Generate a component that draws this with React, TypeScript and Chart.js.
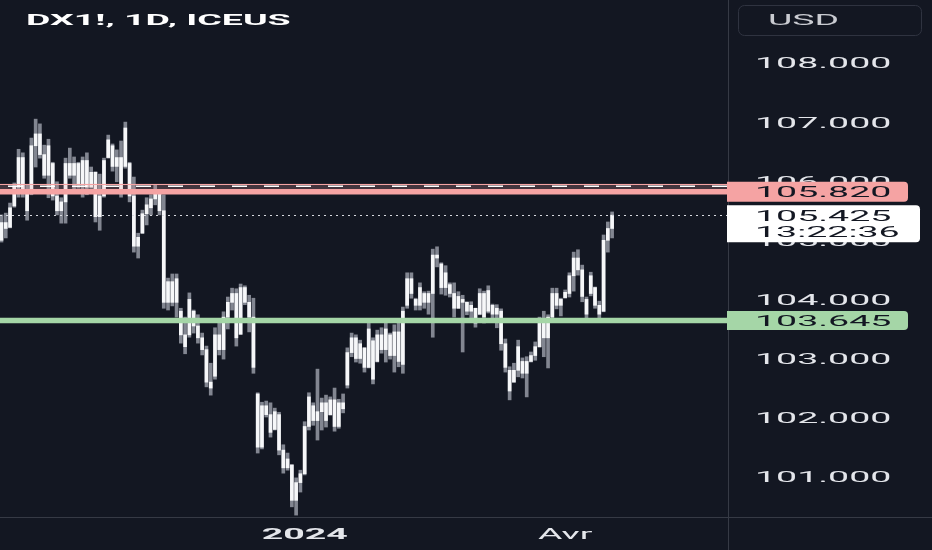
import { useEffect, useRef } from 'react';
import { Chart, registerables } from 'chart.js';

Chart.register(...registerables);

// ---- data (daily OHLC, DX1! ICEUS) ----
const opens = [
  105.0, 105.3, 105.22, 105.58, 105.9, 106.4, 105.8, 105.8, 106.6, 106.8,
  106.45, 106.1, 106.3, 105.75, 105.5, 105.65, 106.3, 106.1, 106.3, 105.95,
  106.35, 105.9, 106.15, 105.4, 105.75, 106.4, 106.6, 106.25, 106.4, 106.25,
  106.3, 105.75, 104.9, 105.12, 105.45, 105.55, 105.7, 105.78, 105.5, 103.95,
  104.3, 103.95, 103.8, 103.4, 103.4, 103.8, 103.55, 103.35, 103.15, 102.6,
  102.7, 103.4, 103.15, 103.7, 103.95, 104.1, 103.41, 104.2, 103.95, 103.7,
  102.4, 101.5, 102.2, 102.05, 101.8, 102.05, 101.45, 101.15, 101.2, 100.6,
  100.9, 101.05, 101.85, 102.2, 101.95, 102.1, 102.25, 102.05, 102.3, 101.85,
  102.25, 102.55, 103.1, 103.35, 103.0, 103.18, 102.85, 103.3, 102.95, 103.4,
  103.15, 103.4, 103.05, 103.45, 102.9, 103.9, 104.35, 104.0, 103.9, 104.1,
  103.95, 104.1, 104.75, 104.6, 104.2, 104.25, 104.1, 103.85, 104.0, 103.95,
  103.8, 103.85, 103.75, 104.1, 103.8, 103.9, 103.75, 103.8, 103.25, 102.8,
  102.6, 102.8, 102.95, 102.75, 102.95, 103.05, 103.2, 103.6, 103.35, 103.7,
  104.1, 103.9, 104.03, 104.1, 104.4, 104.7, 104.5, 104.0, 104.1, 104.2,
  103.9, 103.8, 105.0, 105.2,
];
const highs = [
  105.43, 105.46, 105.63, 105.97, 106.54, 106.48, 105.94, 106.73, 107.05, 106.97,
  106.61, 106.71, 106.32, 105.99, 105.72, 106.39, 106.56, 106.41, 106.32, 106.41,
  106.48, 106.24, 106.16, 106.12, 106.39, 106.78, 106.63, 106.53, 106.68, 107.0,
  106.32, 106.07, 105.12, 105.51, 105.72, 105.77, 105.94, 105.8, 105.77, 104.36,
  104.43, 104.43, 103.85, 103.7, 104.11, 103.82, 103.74, 103.43, 103.21, 102.92,
  103.52, 103.6, 103.79, 104.04, 104.19, 104.18, 104.26, 104.23, 104.07, 104.02,
  102.42, 102.26, 102.28, 102.25, 102.16, 102.09, 101.54, 101.4, 101.2, 100.98,
  101.11, 101.93, 102.42, 102.25, 102.82, 102.33, 102.38, 102.35, 102.5, 102.31,
  102.4, 103.18, 103.43, 103.4, 103.31, 103.18, 103.6, 103.35, 103.48, 103.52,
  103.6, 103.43, 103.57, 103.62, 103.87, 104.45, 104.45, 104.02, 104.28, 104.13,
  104.14, 104.85, 104.89, 104.62, 104.57, 104.28, 104.28, 104.13, 104.07, 103.96,
  103.96, 103.85, 104.18, 104.14, 104.23, 103.92, 103.91, 103.84, 103.33, 102.86,
  102.92, 103.31, 103.01, 103.03, 103.11, 103.28, 103.7, 103.8, 103.74, 104.19,
  104.19, 104.02, 104.16, 104.45, 104.8, 104.84, 104.58, 104.04, 104.46, 104.21,
  103.97, 105.09, 105.31, 105.48,
];
const lows = [
  104.97, 105.04, 105.21, 105.56, 105.73, 105.73, 105.34, 105.77, 106.24, 106.39,
  106.05, 105.72, 105.68, 105.43, 105.29, 105.29, 106.05, 105.85, 105.88, 105.73,
  105.77, 105.88, 105.31, 105.17, 105.73, 106.39, 106.17, 105.99, 105.73, 106.22,
  105.65, 104.8, 104.7, 105.12, 105.26, 105.43, 105.6, 105.43, 103.85, 103.82,
  103.89, 103.7, 103.26, 103.08, 103.36, 103.43, 103.26, 103.06, 102.52, 102.38,
  102.65, 103.06, 102.99, 103.5, 103.82, 103.21, 103.41, 103.91, 103.45, 102.75,
  101.4, 101.47, 102.01, 101.67, 101.79, 101.37, 101.06, 101.11, 100.49, 100.35,
  100.74, 101.03, 101.79, 101.87, 101.62, 101.79, 101.84, 102.04, 101.77, 101.82,
  102.08, 102.5, 103.03, 102.94, 102.92, 102.77, 102.84, 102.57, 102.94, 103.09,
  102.94, 102.99, 102.77, 102.86, 102.75, 103.85, 104.02, 103.82, 103.82, 103.85,
  103.75, 103.36, 104.55, 104.09, 104.07, 104.04, 103.7, 103.85, 103.11, 103.74,
  103.69, 103.53, 103.74, 103.6, 103.77, 103.65, 103.52, 103.14, 102.77, 102.3,
  102.6, 102.69, 102.67, 102.35, 102.94, 102.97, 103.19, 103.03, 102.84, 103.69,
  103.84, 103.72, 104.02, 104.04, 104.14, 104.41, 103.96, 103.69, 104.06, 103.85,
  103.69, 103.79, 104.8, 105.04,
];
const closes = [
  105.3, 105.2, 105.55, 105.9, 106.4, 105.8, 105.5, 106.6, 106.8, 106.45,
  106.1, 106.6, 105.75, 105.5, 105.65, 106.3, 106.1, 106.3, 105.95, 106.35,
  105.9, 106.15, 105.4, 105.75, 106.35, 106.7, 106.25, 106.4, 105.85, 106.9,
  105.75, 104.9, 105.05, 105.45, 105.6, 105.7, 105.85, 105.5, 103.95, 104.3,
  103.95, 104.35, 103.4, 103.2, 104.0, 103.55, 103.35, 103.15, 102.6, 102.5,
  103.4, 103.15, 103.7, 103.95, 104.1, 103.35, 104.2, 103.95, 103.7, 102.85,
  101.5, 102.2, 102.05, 101.75, 102.1, 101.45, 101.15, 101.3, 100.6, 100.9,
  101.05, 101.85, 102.35, 101.95, 102.1, 102.25, 101.95, 102.3, 101.85, 102.25,
  102.15, 103.1, 103.35, 103.0, 103.25, 102.85, 103.5, 102.65, 103.4, 103.15,
  103.5, 103.05, 103.45, 102.95, 103.8, 104.35, 104.1, 103.9, 104.2, 103.95,
  104.1, 104.75, 104.7, 104.2, 104.45, 104.1, 103.85, 104.05, 103.95, 103.8,
  103.9, 103.6, 104.1, 103.7, 104.15, 103.75, 103.85, 103.25, 102.85, 102.45,
  102.8, 103.2, 102.75, 102.95, 103.05, 103.2, 103.6, 103.35, 103.7, 104.1,
  103.9, 104.0, 104.12, 104.4, 104.7, 104.5, 104.05, 103.75, 104.4, 103.9,
  103.75, 105.0, 105.2, 105.425,
];

const priceTicks = [101, 102, 103, 104, 105, 106, 107, 108];
const timeTickIndex = [71, 132];
const timeTickLabels = ['2024', 'Avr'];
const zoneTop = 105.958;
const zoneMid = 105.914;
const resistanceLevel = 105.82;
const supportLevel = 103.645;
const lastPrice = 105.425;
const countdown = '13:22:36';
const titleText = 'DX1!, 1D, ICEUS';
const currencyText = 'USD';

// ---- styles ----
const BG = '#131722';
const SX = 2.5;
const FONT = '15px Roboto';
const BOLD = '700 15px Roboto';
const PINK = '#f5a3a3';
const GREEN = '#a5d6a7';
const SEP = '#363a45';

function sText(ctx: CanvasRenderingContext2D, text: string, x: number, y: number, font: string, color: string, align: CanvasTextAlign = 'left') {
  ctx.save();
  ctx.font = font;
  ctx.fillStyle = color;
  ctx.textAlign = align;
  ctx.textBaseline = 'alphabetic';
  ctx.translate(x, y);
  ctx.scale(SX, 1);
  ctx.fillText(text, 0, 0);
  ctx.restore();
}

function labelBox(ctx: CanvasRenderingContext2D, x1: number, y1: number, x2: number, y2: number, r: number, color: string) {
  ctx.save();
  ctx.fillStyle = color;
  ctx.beginPath();
  ctx.moveTo(x1, y1);
  ctx.lineTo(x2 - r, y1);
  ctx.quadraticCurveTo(x2, y1, x2, y1 + r);
  ctx.lineTo(x2, y2 - r);
  ctx.quadraticCurveTo(x2, y2, x2 - r, y2);
  ctx.lineTo(x1, y2);
  ctx.closePath();
  ctx.fill();
  ctx.restore();
}

const tvPlugin = {
  id: 'tvPlugin',
  beforeDraw(chart: any) {
    const ctx = chart.ctx;
    ctx.save();
    ctx.fillStyle = BG;
    ctx.fillRect(0, 0, chart.width, chart.height);
    ctx.restore();
  },
  afterDatasetsDraw(chart: any) {
    const ctx: CanvasRenderingContext2D = chart.ctx;
    const y = chart.scales.y;
    const a = chart.chartArea;
    const yt = y.getPixelForValue(zoneTop);
    const yr = y.getPixelForValue(resistanceLevel);
    const ym = y.getPixelForValue(zoneMid);
    const ys = y.getPixelForValue(supportLevel);
    const yl = y.getPixelForValue(lastPrice);
    ctx.save();
    // zone
    ctx.fillStyle = 'rgba(245,163,163,0.22)';
    ctx.fillRect(a.left, yt, a.right - a.left, yr - yt);
    ctx.strokeStyle = PINK;
    ctx.lineWidth = 1;
    ctx.beginPath();
    ctx.moveTo(a.left, Math.round(yt) + 0.5);
    ctx.lineTo(a.right, Math.round(yt) + 0.5);
    ctx.stroke();
    // dashed white
    ctx.strokeStyle = '#ffffff';
    ctx.lineWidth = 1.5;
    ctx.setLineDash([15, 17]);
    ctx.beginPath();
    ctx.moveTo(a.left + 8, ym);
    ctx.lineTo(a.right, ym);
    ctx.stroke();
    ctx.setLineDash([]);
    // resistance
    ctx.strokeStyle = PINK;
    ctx.lineWidth = 5.5;
    ctx.beginPath();
    ctx.moveTo(a.left, yr);
    ctx.lineTo(a.right, yr);
    ctx.stroke();
    // support
    ctx.strokeStyle = GREEN;
    ctx.lineWidth = 5.5;
    ctx.beginPath();
    ctx.moveTo(a.left, ys);
    ctx.lineTo(a.right, ys);
    ctx.stroke();
    // last price dotted
    ctx.strokeStyle = '#d8dae0';
    ctx.lineWidth = 1;
    ctx.setLineDash([2, 4]);
    ctx.beginPath();
    ctx.moveTo(a.left, Math.round(yl) + 0.5);
    ctx.lineTo(a.right, Math.round(yl) + 0.5);
    ctx.stroke();
    ctx.restore();
  },
  afterDraw(chart: any) {
    const ctx: CanvasRenderingContext2D = chart.ctx;
    const y = chart.scales.y;
    const x = chart.scales.x;
    const a = chart.chartArea;
    ctx.save();
    // separators
    ctx.strokeStyle = SEP;
    ctx.lineWidth = 1;
    ctx.beginPath();
    ctx.moveTo(a.right + 0.5, 0);
    ctx.lineTo(a.right + 0.5, chart.height);
    ctx.moveTo(0, a.bottom + 0.5);
    ctx.lineTo(chart.width, a.bottom + 0.5);
    ctx.stroke();
    ctx.restore();

    // price ticks
    priceTicks.forEach((v) => {
      const py = y.getPixelForValue(v);
      sText(ctx, v.toFixed(3), 755, py + 5.5, FONT, '#e4e6eb');
    });

    // labels
    const yr = y.getPixelForValue(resistanceLevel);
    labelBox(ctx, a.right - 1, yr - 10, 908, yr + 10, 4, PINK);
    sText(ctx, resistanceLevel.toFixed(3), 755, yr + 5.5, FONT, '#131722');

    const yl = y.getPixelForValue(lastPrice);
    labelBox(ctx, a.right - 1, yl - 10, 920, yl + 27, 4, '#ffffff');
    sText(ctx, lastPrice.toFixed(3), 755, yl + 6, FONT, '#131722');
    sText(ctx, countdown, 755, yl + 22, FONT, '#131722');

    const ys = y.getPixelForValue(supportLevel);
    labelBox(ctx, a.right - 1, ys - 9.5, 908, ys + 9.5, 4, GREEN);
    sText(ctx, supportLevel.toFixed(3), 755, ys + 5.5, FONT, '#131722');

    // time labels
    timeTickIndex.forEach((ti, k) => {
      const px = x.getPixelForValue(ti);
      sText(ctx, timeTickLabels[k], px, 539, k === 0 ? BOLD : FONT, '#e4e6eb', 'center');
    });

    // title
    sText(ctx, titleText, 26, 25, BOLD, '#ffffff');

    // currency box
    ctx.save();
    ctx.strokeStyle = '#2f3340';
    ctx.lineWidth = 1;
    ctx.beginPath();
    (ctx as any).roundRect(738.5, 5.5, 183, 30, 6);
    ctx.stroke();
    ctx.restore();
    sText(ctx, currencyText, 768, 25, FONT, '#c9cbd1');
  },
};

export default function App() {
  const ref = useRef<HTMLCanvasElement | null>(null);
  useEffect(() => {
    if (!ref.current) return;
    const idx = highs.map((_, i) => i);
    const chart = new Chart(ref.current, {
      type: 'bar',
      data: {
        datasets: [
          {
            label: 'wick',
            data: idx.map((i) => ({ x: i, y: [lows[i], highs[i]] })) as any,
            backgroundColor: 'rgba(150,154,164,0.85)',
            barThickness: 3,
            grouped: false,
            order: 2,
          } as any,
          {
            label: 'body',
            data: idx.map((i) => ({ x: i, y: [Math.min(opens[i], closes[i]), Math.max(opens[i], closes[i])] })) as any,
            backgroundColor: '#f6f7f9',
            barThickness: 3,
            minBarLength: 1,
            grouped: false,
            order: 1,
          } as any,
        ],
      },
      options: {
        animation: false,
        responsive: false,
        layout: { padding: 0 },
        plugins: { legend: { display: false }, tooltip: { enabled: false } },
        scales: {
          x: {
            type: 'linear',
            offset: false,
            min: -0.35,
            max: 170.14,
            grid: { display: false, offset: false },
            border: { display: false },
            ticks: { display: false },
            afterFit: (s: any) => { s.height = 33; },
          },
          y: {
            position: 'right',
            min: 100.318,
            max: 109.066,
            grid: { display: false },
            border: { display: false },
            ticks: { display: false },
            afterFit: (s: any) => { s.width = 204; },
          },
        },
      } as any,
      plugins: [tvPlugin],
    });
    return () => chart.destroy();
  }, []);
  return (
    <div style={{ position: 'fixed', left: 0, top: 0, width: 932, height: 550, background: BG }}>
      <canvas ref={ref} width={932} height={550} style={{ display: 'block' }} />
    </div>
  );
}
